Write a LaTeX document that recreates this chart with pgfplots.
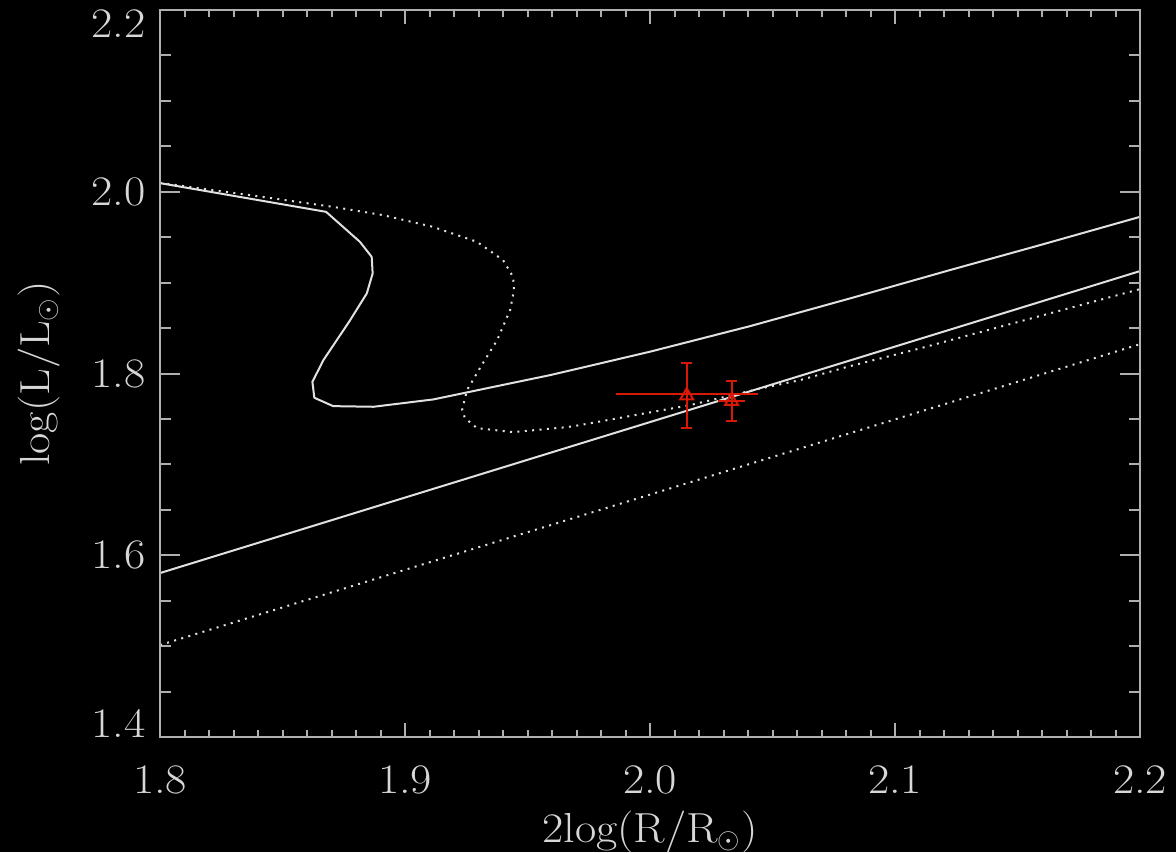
\documentclass[border=0pt]{standalone}
\usepackage{fontspec}
\setmainfont{Latin Modern Roman}[FakeStretch=1.1]
\usepackage{pgfplots}
\pgfplotsset{compat=1.18}
\definecolor{axgray}{RGB}{175,175,175}
\definecolor{txt}{RGB}{215,215,215}
\definecolor{crv}{RGB}{225,225,225}
\definecolor{obs}{RGB}{215,25,5}
\pgfplotsset{
  common/.style={
    at={(0,0)}, anchor=south west, scale only axis,
    width=490pt, height=363.5pt,
    xmin=1.8, xmax=2.2, ymin=1.4, ymax=2.2,
    axis line style={axgray, line width=1pt},
    tick style={axgray, line width=1pt},
    tick align=inside, tick pos=both,
    ticklabel style={txt, font=\fontsize{21}{25}\selectfont,
      /pgf/number format/fixed, /pgf/number format/fixed zerofill,
      /pgf/number format/precision=1, /pgf/number format/assume math mode=true},
    label style={txt, font=\fontsize{21}{25}\selectfont},
  }
}
\begin{document}
\begin{tikzpicture}
\fill[black] (-80pt,-57.5pt) rectangle (508pt,368.5pt);
\begin{axis}[common,
  xtick=\empty,
  ytick={1.4,1.6,1.8,2.0,2.2},
  minor y tick num=3,
  major tick length=10pt, minor tick length=5.3pt,
  yticklabel style={anchor=east, inner sep=0pt, xshift=-7pt,
    yshift={7*(\tick<1.5)-7*(\tick>2.1)}},
  ylabel={log(L/L$_\odot$)},
  ylabel style={at={(axis description cs:-0.1125,0.5)}, anchor=base, rotate=0},
]
% solid track (loop + upper branch)
\addplot[crv, line width=1pt, line join=round] coordinates {
(1.8000,2.0095) (1.8678,1.9779) (1.8816,1.9449) (1.8864,1.9284) (1.8868,1.9101)
(1.8844,1.8881) (1.8776,1.8587) (1.8667,1.8147) (1.8622,1.7909) (1.8630,1.7733)
(1.8707,1.7641) (1.8871,1.7634) (1.9116,1.7715) (1.9429,1.7891) (1.9592,1.7982)
(1.9714,1.8059) (2.0000,1.8240) (2.0408,1.8521) (2.0816,1.8826) (2.1224,1.9138)
(2.1592,1.9413) (2.2000,1.9724)};
% solid lower line
\addplot[crv, line width=1pt] coordinates {(1.8,1.5804) (2.2,1.9127)};
% dotted track
\addplot[crv, line width=1pt, dash pattern=on 1pt off 2.7pt] coordinates {
(1.8000,2.0098) (1.8367,1.9963) (1.8706,1.9834) (1.8910,1.9743) (1.9114,1.9614)
(1.9294,1.9449) (1.9400,1.9248) (1.9441,1.9064) (1.9445,1.8918) (1.9429,1.8698)
(1.9376,1.8367) (1.9318,1.8114) (1.9253,1.7817) (1.9233,1.7597) (1.9245,1.7509)
(1.9294,1.7399) (1.9441,1.7355) (1.9661,1.7410) (1.9714,1.7432) (2.0163,1.7652)
(2.0449,1.7834) (2.0612,1.7927) (2.0816,1.8081) (2.1090,1.8268) (2.2000,1.8929)};
% dotted lower line
\addplot[crv, line width=1pt, dash pattern=on 1pt off 2.7pt] coordinates {(1.8,1.5012) (2.2,1.8323)};
% observations: x error bars (no caps)
\addplot[draw=none, mark=none, forget plot,
  error bars/.cd, x dir=both, x explicit, error mark=none,
  error bar style={obs, line width=1pt}] coordinates {
(2.0150,1.7770) +- (0.029,0)
(2.0333,1.7700) +- (0.0055,0)};
% observations: y error bars with caps and triangles
\addplot[only marks, mark=triangle, mark size=3.7pt, mark options={obs, line width=1pt},
  error bars/.cd, y dir=both, y explicit,
  error bar style={obs, line width=1pt},
  error mark options={rotate=90, obs, mark size=2.75pt, line width=1pt}] coordinates {
(2.0150,1.7757) +- (0,0.036)
(2.0333,1.7696) +- (0,0.022)};
\end{axis}
\begin{axis}[common,
  ytick=\empty,
  xtick={1.8,1.9,2.0,2.1,2.2},
  minor x tick num=9,
  major tick length=7pt, minor tick length=3.3pt,
  xticklabel style={anchor=north, inner sep=0pt, yshift=-14pt},
  xlabel={2log(R/R$_\odot$)},
  xlabel style={at={(axis description cs:0.5,-0.14443)}, anchor=base},
]
\addplot[draw=none] coordinates {(1.8,1.4)};
\end{axis}
\pgfresetboundingbox
\path[use as bounding box] (-80pt,-57.5pt) rectangle (508pt,368.5pt);
\end{tikzpicture}
\end{document}
